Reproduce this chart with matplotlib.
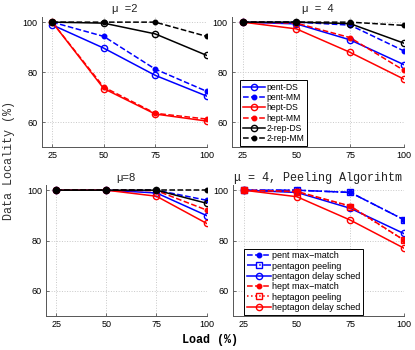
import numpy as np
import matplotlib
matplotlib.use("Agg")
import matplotlib.pyplot as plt

load = [25, 50, 75, 100]

# mu = 2
mu2_pent_ds = [98.9, 89.6, 78.7, 70.4]
mu2_pent_mm = [100, 94.3, 81.2, 72.3]
mu2_hept_ds = [100, 73.4, 63.2, 60.4]
mu2_hept_mm = [100, 74.0, 63.5, 61.2]
mu2_rep_ds = [100, 99.6, 95.3, 86.7]
mu2_rep_mm = [100, 100, 100, 94.3]

# mu = 4
mu4_pent_ds = [100, 99.3, 92.9, 83.0]
mu4_pent_mm = [100, 100, 98.8, 88.5]
mu4_hept_ds = [100, 97.3, 87.9, 77.2]
mu4_hept_mm = [100, 99.6, 93.8, 80.7]
mu4_rep_ds = [100, 100, 99.4, 91.6]
mu4_rep_mm = [100, 100, 100, 98.7]

# mu = 8
mu8_pent_ds = [100, 100, 98.9, 89.9]
mu8_pent_mm = [100, 100, 100, 96.0]
mu8_hept_ds = [100, 100, 97.6, 86.8]
mu8_hept_mm = [100, 100, 99.8, 92.1]
mu8_rep_ds = [100, 100, 100, 94.8]
mu8_rep_mm = [100, 100, 100, 100]

# mu = 4, peeling
pl_pent_mm = [100, 100, 99.1, 88.3]
pl_pent_peel = [100, 100, 99.1, 88.3]
pl_pent_ds = [100, 99.1, 92.8, 82.8]
pl_hept_mm = [100, 99.5, 93.7, 80.2]
pl_hept_peel = [100, 99.3, 93.5, 80.2]
pl_hept_ds = [100, 97.4, 88.1, 77.0]

SANS = "Liberation Sans"
MONO = "Liberation Mono"
plt.rcParams["font.family"] = [SANS, "DejaVu Sans"]
plt.rcParams["font.size"] = 6.5

fig = plt.figure(figsize=(4.15, 3.5), dpi=100)
ax_tl = fig.add_axes([0.101, 0.58, 0.397, 0.371])
ax_tr = fig.add_axes([0.559, 0.58, 0.414, 0.371])
ax_bl = fig.add_axes([0.111, 0.097, 0.387, 0.374])
ax_br = fig.add_axes([0.561, 0.097, 0.412, 0.374])

open_c = dict(marker="o", mfc="none", ms=4.5, mew=1.0, lw=1.1)
dot = dict(marker=".", ms=6.5, lw=1.1)


def style(ax):
    ax.set_xlim(20, 100)
    ax.set_ylim(50, 102)
    ax.set_xticks(load)
    ax.set_yticks([60, 80, 100])
    ax.grid(True, linestyle=":", color="#c8c8c8", lw=0.7)
    ax.spines["top"].set_visible(False)
    ax.spines["right"].set_visible(False)
    for s in ("left", "bottom"):
        ax.spines[s].set_color("#555555")
        ax.spines[s].set_linewidth(0.7)
    ax.tick_params(direction="in", length=2.5, width=0.6, labelsize=6.5,
                   color="#555555", pad=3)
    ax.set_axisbelow(True)


def add_legend(ax, x0, fs):
    leg = ax.legend(loc="lower left", bbox_to_anchor=(x0, 0.0),
                    fontsize=fs, handlelength=2.6, handletextpad=0.2,
                    labelspacing=0.15, borderpad=0.3, fancybox=False,
                    framealpha=1, borderaxespad=0.15)
    leg.get_frame().set_edgecolor("black")
    leg.get_frame().set_linewidth(0.7)


def six(ax, pds, pmm, hds, hmm, rds, rmm, legend=False):
    ax.plot(load, pds, "-", color="blue", label="pent-DS", **open_c)
    ax.plot(load, pmm, "--", color="blue", label="pent-MM", **dot)
    ax.plot(load, hds, "-", color="red", label="hept-DS", **open_c)
    ax.plot(load, hmm, "--", color="red", label="hept-MM", **dot)
    ax.plot(load, rds, "-", color="black", label="2-rep-DS", **open_c)
    ax.plot(load, rmm, "--", color="black", label="2-rep-MM", **dot)
    style(ax)
    if legend:
        add_legend(ax, 0.04, 6.2)


six(ax_tl, mu2_pent_ds, mu2_pent_mm, mu2_hept_ds, mu2_hept_mm, mu2_rep_ds, mu2_rep_mm)
six(ax_tr, mu4_pent_ds, mu4_pent_mm, mu4_hept_ds, mu4_hept_mm, mu4_rep_ds, mu4_rep_mm,
    legend=True)
six(ax_bl, mu8_pent_ds, mu8_pent_mm, mu8_hept_ds, mu8_hept_mm, mu8_rep_ds, mu8_rep_mm)

# peeling panel
ax = ax_br
ax.plot(load, pl_pent_mm, "--", color="blue", label="pent max\u2212match", **dot)
ax.plot(load, pl_pent_peel, "-.", color="blue", label="pentagon peeling",
        marker="s", mfc="none", ms=4.5, mew=1.0, lw=1.1)
ax.plot(load, pl_pent_ds, "-", color="blue", label="pentagon delay sched", **open_c)
ax.plot(load, pl_hept_mm, "--", color="red", label="hept max\u2212match", **dot)
ax.plot(load, pl_hept_peel, ":", color="red", label="heptagon peeling",
        marker="s", mfc="none", ms=4.5, mew=1.0, lw=1.1)
ax.plot(load, pl_hept_ds, "-", color="red", label="heptagon delay sched", **open_c)
style(ax)
add_legend(ax, 0.06, 6.5)

tfont = dict(fontsize=8, color="#222222")
ax_tl.set_title("\u03bc  =2", pad=4, **tfont)
ax_tr.set_title("\u03bc  =  4", pad=4, **tfont)
ax_bl.set_title("\u03bc=8", pad=3, **tfont)
ax_br.set_title("\u03bc = 4, Peeling Algorihtm", pad=3, fontsize=8.5,
                family=[MONO, "DejaVu Sans Mono"], color="#222222")

fig.text(0.022, 0.54, "Data Locality (%)", rotation=90, ha="center", va="center",
         fontsize=8.5, family=[MONO, "DejaVu Sans Mono"], color="#333333")
fig.text(0.505, 0.028, "Load (%)", ha="center", va="center", fontsize=8.5,
         fontweight="bold", family=[MONO, "DejaVu Sans Mono"])

fig.savefig("out.png", dpi=100)
